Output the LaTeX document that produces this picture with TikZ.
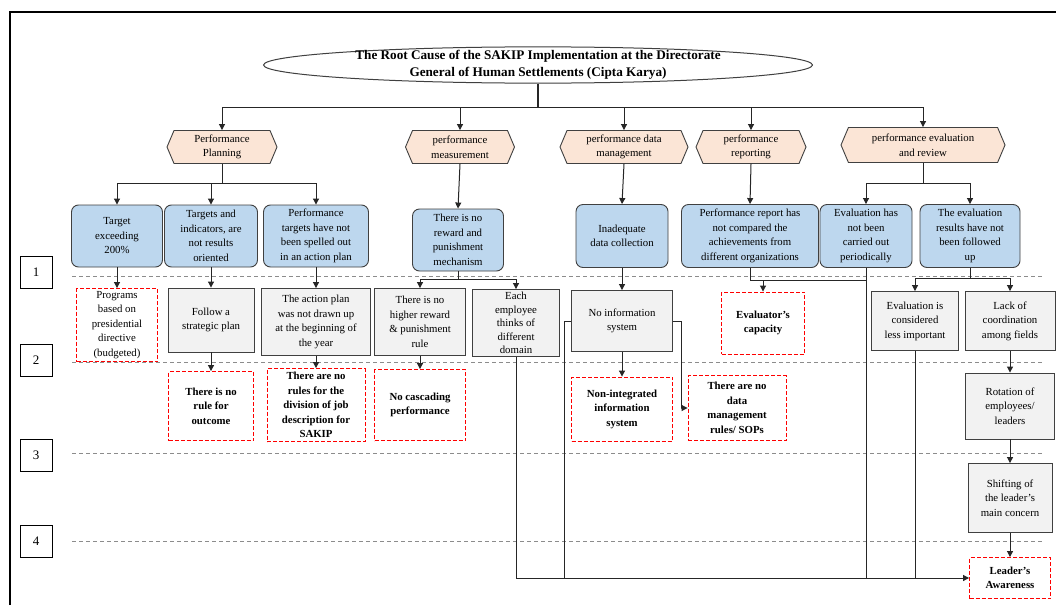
\documentclass[tikz,border=0pt]{standalone}
\usepackage{fontspec}
\setmainfont{Liberation Serif}
\usetikzlibrary{arrows.meta,shapes.geometric,shapes.symbols}
\definecolor{boxblue}{HTML}{BDD7EE}
\definecolor{peach}{HTML}{FBE5D6}
\definecolor{boxgray}{HTML}{F2F2F2}
\definecolor{edge}{HTML}{404040}
\begin{document}
\begin{tikzpicture}[x=1pt,y=-1pt,>={Triangle[length=6pt,width=6pt]},
    every node/.style={font=\fontsize{10.8}{14.5}\selectfont,align=center,inner sep=1pt},
    link/.style={draw=black!85,line width=1pt},
    guide/.style={draw=black!45,dash pattern=on 4pt off 3pt,line width=0.8pt},
    head/.style={ellipse,draw=edge,line width=1pt,inner xsep=0pt,inner ysep=-1.5pt,minimum width=549pt,minimum height=36pt,font=\bfseries\fontsize{13.2}{16.5}\selectfont},
    area/.style 2 args={signal,signal to=west and east,signal pointer angle=134,draw=edge,fill=peach,line width=0.9pt,minimum width=#1,minimum height=#2},
    cause/.style 2 args={rectangle,rounded corners=7pt,draw=edge,fill=boxblue,line width=0.9pt,minimum width=#1,minimum height=#2},
    fact/.style 2 args={rectangle,draw=edge,fill=boxgray,line width=0.9pt,minimum width=#1,minimum height=#2},
    root/.style 2 args={rectangle,draw=red,dash pattern=on 4pt off 2pt,fill=white,line width=0.9pt,minimum width=#1,minimum height=#2,font=\bfseries\fontsize{10.8}{14.5}\selectfont},
    level/.style={draw=black,line width=0.9pt,minimum width=32pt,minimum height=32pt,font=\fontsize{13}{15}\selectfont}]
\useasboundingbox[fill=white](0,0) rectangle (1056,605);
\draw[line width=2pt](10,605)--(10,12)--(1056,12);
\foreach \y in {276,362,453,541}
    \draw[guide](72,\y)--(1043,\y);
\node[level](l1) at (36,272){1};
\node[level](l2) at (36,360){2};
\node[level](l3) at (36,455){3};
\node[level](l4) at (36,541){4};

\node[head](title) at (538,65){The Root Cause of the SAKIP Implementation at the Directorate\\General of Human Settlements (Cipta Karya)};
\coordinate (top) at (538,107);

\node[area={110}{33}](cPlan) at (222,147){Performance\\Planning};
\node[area={109}{33}](cMeas) at (460,147){performance\\measurement};
\node[area={128}{33}](cData) at (624,147){performance data\\management};
\node[area={110}{33}](cRep) at (751,147){performance\\reporting};
\node[area={164}{35}](cEval) at (923,145){performance evaluation\\and review};

\node[cause={91}{62}](b1) at (117,236){Target\\exceeding\\200\%};
\node[cause={93}{62}](b2) at (211,236){Targets and\\indicators, are\\not results\\oriented};
\node[cause={105}{62}](b3) at (316,236){Performance\\targets have not\\been spelled out\\in an action plan};
\node[cause={91}{62}](b4) at (458,240){There is no\\reward and\\punishment\\mechanism};
\node[cause={92}{63}](b5) at (622,236){Inadequate\\data collection};
\node[cause={137}{63}](b6) at (750,236){Performance report has\\not compared the\\achievements from\\different organizations};
\node[cause={92}{63}](b7) at (866,236){Evaluation has\\not been\\carried out\\periodically};
\node[cause={100}{63}](b8) at (970,236){The evaluation\\results have not\\been followed\\up};

\node[root={81}{73},font=\fontsize{10.8}{14.5}\selectfont](r1) at (117,325){Programs\\based on\\presidential\\directive\\(budgeted)};
\node[fact={86}{64}](g1) at (211,320){Follow a\\strategic plan};
\node[fact={109}{67}](g2) at (316,322){The action plan\\was not drawn up\\at the beginning of\\the year};
\node[fact={91}{67}](g3) at (420,322){There is no\\higher reward\\\& punishment\\rule};
\node[fact={87}{67},font=\fontsize{10.8}{13.5}\selectfont](g4) at (516,323){Each\\employee\\thinks of\\different\\domain};
\node[fact={101}{61}](g5) at (622,321){No information\\system};
\node[root={83}{62}](r2) at (763,323){Evaluator’s\\capacity};
\node[fact={87}{59}](g6) at (915,321){Evaluation is\\considered\\less important};
\node[fact={90}{59}](g7) at (1010,321){Lack of\\coordination\\among fields};

\node[root={85}{69}](r3) at (211,406){There is no\\rule for\\outcome};
\node[root={98}{73}](r4) at (316,405){There are no\\rules for the\\division of job\\description for\\SAKIP};
\node[root={91}{71}](r5) at (420,405){No cascading\\performance};
\node[root={101}{64}](r6) at (622,409){Non-integrated\\information\\system};
\node[root={98}{65}](r7) at (737,408){There are no\\data\\management\\rules/ SOPs};
\node[fact={89}{66}](g8) at (1010,406){Rotation of\\employees/\\leaders};
\node[fact={84}{69}](g9) at (1010,498){Shifting of\\the leader’s\\main concern};
\node[root={81}{41}](r8) at (1010,578){Leader’s\\Awareness};

\draw[link,line width=1.6pt](title.south)--(top);
\foreach \n in {cPlan,cMeas,cData,cRep,cEval}
    \draw[link,->](top)-|(\n.north);

\coordinate (sPlan) at (222,183);
\draw[link](cPlan.south)--(sPlan);
\foreach \n in {b1,b2,b3}
    \draw[link,->](sPlan)-|(\n.north);
\draw[link,->](cMeas.south)--(b4.north);
\draw[link,->](cData.south)--(b5.north);
\draw[link,->](cRep.south)--(b6.north);
\coordinate (sEval) at (923,183);
\draw[link](cEval.south)--(sEval);
\foreach \n in {b7,b8}
    \draw[link,->](sEval)-|(\n.north);

\draw[link,->](b1.south)--(r1.north);
\draw[link,->](b2.south)--(g1.north);
\draw[link,->](g1.south)--(r3.north);
\draw[link,->](b3.south)--(g2.north);
\draw[link,->](g2.south)--(r4.north);
\coordinate (sMeas) at (458,279);
\draw[link](b4.south)--(sMeas);
\foreach \n in {g3,g4}
    \draw[link,->](sMeas)-|(\n.north);
\draw[link,->](g3.south)--(r5.north);
\draw[link,->](b5.south)--(g5.north);
\draw[link,->](g5.south)--(r6.north);
\draw[link,->](g5.east)--++(9,0)|-(r7.west);
\coordinate (sRep) at (763,280);
\draw[link](b6.south)|-(b7.south|-sRep);
\draw[link,->](sRep)--(r2.north);
\coordinate (sRes) at (970,278);
\draw[link](b8.south)--(sRes);
\foreach \n in {g6,g7}
    \draw[link,->](sRes)-|(\n.north);
\draw[link,->](g7.south)--(g8.north);
\draw[link,->](g8.south)--(g9.north);
\draw[link,->](g9.south)--(r8.north);

\coordinate (m1) at (564,578);
\coordinate (m2) at (866,578);
\coordinate (m3) at (915,578);
\draw[link](g5.west)-|(m1);
\draw[link](b7.south)--(m2);
\draw[link](g6.south)--(m3);
\draw[link,->](g4.south)|-(r8.west);
\end{tikzpicture}
\end{document}
